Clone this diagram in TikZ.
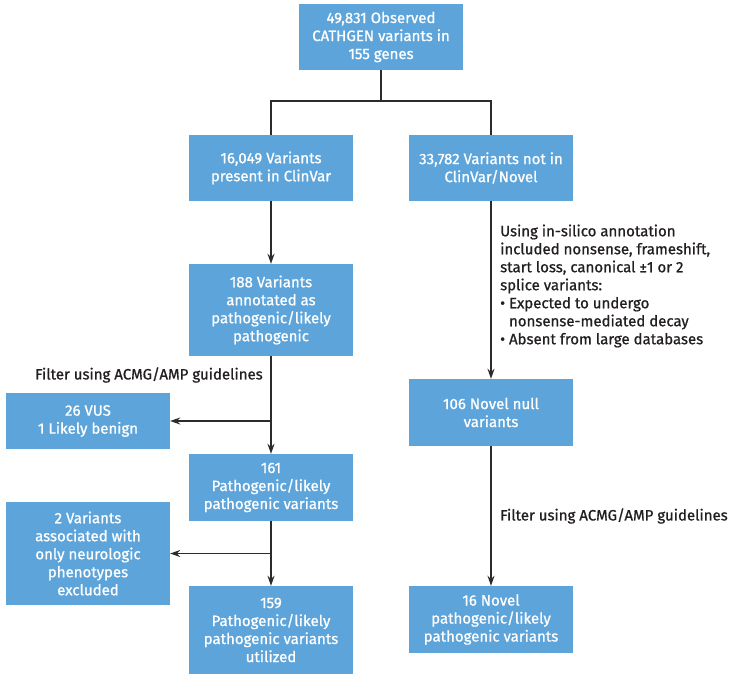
\documentclass[tikz,border=0pt]{standalone}
\usepackage{fontspec}
\setmainfont{Fira Sans}[FakeBold=0.9]
\usetikzlibrary{arrows.meta}
\definecolor{boxblue}{RGB}{92,164,218}
\definecolor{linegray}{RGB}{45,42,43}
\definecolor{txtdark}{RGB}{35,31,32}
\begin{document}
\begin{tikzpicture}[x=1pt,y=-1pt,
  box/.style={fill=boxblue,text=white,minimum width=164pt,inner sep=0pt,align=center,
    font=\fontsize{15}{18}\selectfont},
  lbl/.style={text=txtdark,inner sep=0pt,align=left,font=\fontsize{15}{18}\selectfont},
  conn/.style={draw=linegray,line width=1.4pt},
  arr/.style={conn,-{Stealth[length=10pt,width=7pt]}}]
\useasboundingbox (0,0) rectangle (751,679);
\node[box,minimum height=66pt] (top) at (381,37) {49,831 Observed\\CATHGEN variants in\\155 genes};
\node[box,minimum height=66pt] (cv) at (271,168) {16,049 Variants\\present in ClinVar};
\node[box,minimum height=66pt] (ncv) at (491,168) {33,782 Variants not in\\ClinVar/Novel};
\node[box,minimum height=92pt] (p188) at (271,310) {188 Variants\\annotated as\\pathogenic/likely\\pathogenic};
\node[box,minimum height=56pt] (vus) at (88,421) {26 VUS\\1 Likely benign};
\node[box,minimum height=67pt] (p161) at (271,487.5) {161\\Pathogenic/likely\\pathogenic variants};
\node[box,minimum height=103pt] (neuro) at (88,553.5) {2 Variants\\associated with\\only neurologic\\phenotypes\\excluded};
\node[box,minimum height=88pt] (p159) at (271,630) {159\\Pathogenic/likely\\pathogenic variants\\utilized};
\node[box,minimum height=67pt] (null) at (491,412.5) {106 Novel null\\variants};
\node[box,minimum height=67pt] (nov) at (491,619.5) {16 Novel\\pathogenic/likely\\pathogenic variants};
\node[lbl,anchor=west] (f1) at (35,375) {Filter using ACMG/AMP guidelines};
\node[lbl,anchor=west] (f2) at (500,516) {Filter using ACMG/AMP guidelines};
\node[lbl,anchor=west] (ann) at (500,286) {Using in-silico annotation\\included nonsense, frameshift,\\start loss, canonical ±1 or 2\\splice variants:\\• Expected to undergo\\\phantom{• }nonsense-mediated decay\\• Absent from large databases};
\coordinate (split) at (381,101);
\draw[conn] (top.south) -- (split);
\draw[conn] (cv.north) |- (split) -| (ncv.north);
\draw[arr] (cv.south) -- (p188.north);
\draw[arr] (p188.south) -- (p161.north);
\draw[arr] (p188.south |- vus.east) -- (vus.east);
\draw[arr] (p161.south) -- (p159.north);
\draw[arr] (p161.south |- neuro.east) -- (neuro.east);
\draw[arr] (ncv.south) -- (null.north);
\draw[arr] (null.south) -- (nov.north);
\end{tikzpicture}
\end{document}
